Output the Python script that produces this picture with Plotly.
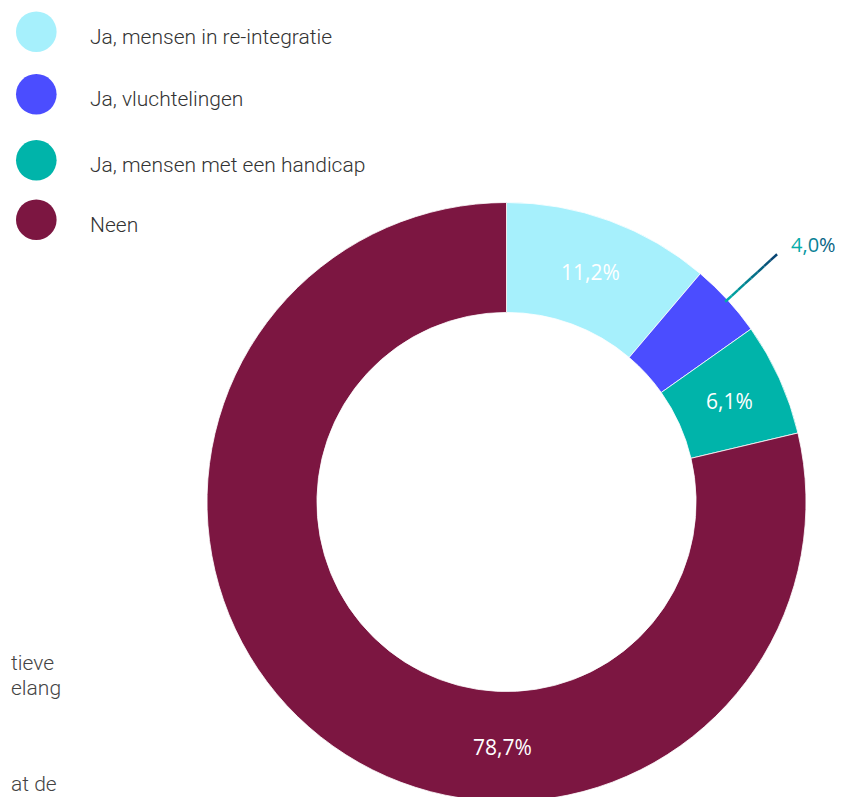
import math
import plotly.graph_objects as go

# ---- data ----
categories = ["Ja, mensen in re-integratie", "Ja, vluchtelingen",
              "Ja, mensen met een handicap", "Neen"]
values = [11.2, 4.0, 6.1, 78.7]
value_labels = ["11,2%", "4,0%", "6,1%", "78,7%"]
colors = ["#A6F0FC", "#4B4DFF", "#00B4AA", "#7C1641"]
label_placement = ["inside", "outside", "inside", "bottom"]
side_texts = ["tieve", "elang", "at de"]

# ---- layout geometry (screen pixels; page body has an 8px margin) ----
W, H = 843, 797
OX, OY = 8, 8
cx, cy, R = 506.5, 502.0, 299.5
HOLE = 0.633


def px2paper(x, y):
    return (x - OX) / W, 1 - (y - OY) / H


fig = go.Figure()
dx0, dy0 = px2paper(cx - R, cy + R)
dx1, dy1 = px2paper(cx + R, cy - R)
fig.add_trace(go.Pie(
    labels=categories, values=values, sort=False, direction="clockwise",
    rotation=0, hole=HOLE, textinfo="none", hoverinfo="none",
    marker=dict(colors=colors, line=dict(color="white", width=0.8)),
    domain=dict(x=[dx0, dx1], y=[dy0, dy1]),
    showlegend=False,
))

annotations = []
shapes = []

# value labels positioned from the data
total = sum(values)
cum = 0.0
mid_r = (HOLE + 1) / 2 * R
lab_font = dict(family="Open Sans", size=21, color="white")
for v, lab, place in zip(values, value_labels, label_placement):
    theta = (cum + v / 2) / total * 2 * math.pi
    cum += v
    if place == "inside":
        x, y = cx + mid_r * math.sin(theta), cy - mid_r * math.cos(theta)
        xp, yp = px2paper(x, y)
        annotations.append(dict(x=xp, y=yp, xref="paper", yref="paper", text=lab,
                                showarrow=False, xanchor="center", yanchor="middle",
                                font=lab_font))
    elif place == "bottom":
        x, y = cx - 4, cy + mid_r
        xp, yp = px2paper(x, y)
        annotations.append(dict(x=xp, y=yp, xref="paper", yref="paper", text=lab,
                                showarrow=False, xanchor="center", yanchor="middle",
                                font=lab_font))
    else:
        r0, r1 = 0.99 * R, 1.225 * R
        x0, y0 = cx + r0 * math.sin(theta), cy - r0 * math.cos(theta)
        x1, y1 = cx + r1 * math.sin(theta), cy - r1 * math.cos(theta)
        c0 = (0x00, 0xB4, 0xAA)
        c1 = (0x09, 0x3E, 0x70)
        n = 8
        for i in range(n):
            t0, t1 = i / n, (i + 1) / n
            tm = (t0 + t1) / 2
            col = "rgb(%d,%d,%d)" % tuple(int(a + (b - a) * tm) for a, b in zip(c0, c1))
            ax0, ay0 = px2paper(x0 + (x1 - x0) * t0, y0 + (y1 - y0) * t0)
            ax1, ay1 = px2paper(x0 + (x1 - x0) * t1, y0 + (y1 - y0) * t1)
            shapes.append(dict(type="line", xref="paper", yref="paper",
                               x0=ax0, y0=ay0, x1=ax1, y1=ay1,
                               line=dict(color=col, width=2.5)))
        grad = ["#05ADA9", "#0898A2", "#0A8196", "#0A6585", "#0A5580"]
        txt = "".join("<span style='color:%s'>%s</span>" % (grad[min(i, len(grad) - 1)], ch)
                      for i, ch in enumerate(lab))
        xp, yp = px2paper(x1 + 12, y1 - 10)
        annotations.append(dict(x=xp, y=yp, xref="paper", yref="paper", text=txt,
                                showarrow=False, xanchor="left", yanchor="middle",
                                font=dict(family="Open Sans", size=20, color="#0A8196")))

# custom legend with large round swatches
leg_y = [31.7, 94.3, 160.3, 219.7]
D = 40.6
leg_font = dict(family="Roboto", size=21, color="#333333", weight=300)
for cat, col, ly in zip(categories, colors, leg_y):
    xa, ya = px2paper(36.3 - D / 2, ly - D / 2)
    xb, yb = px2paper(36.3 + D / 2, ly + D / 2)
    shapes.append(dict(type="circle", xref="paper", yref="paper",
                       x0=xa, x1=xb, y0=yb, y1=ya,
                       fillcolor=col, line=dict(width=0)))
    tx, ty = px2paper(88, ly + 5)
    annotations.append(dict(x=tx, y=ty, xref="paper", yref="paper", text=cat,
                            showarrow=False, xanchor="left", yanchor="middle",
                            font=leg_font))

# page text fragments at the left edge (kept fully visible)
side_y = [663, 687.5, 784]
for t, sy in zip(side_texts, side_y):
    xp, yp = px2paper(OX + 1, sy)
    annotations.append(dict(x=xp, y=yp, xref="paper", yref="paper", text=t,
                            showarrow=False, xanchor="left", yanchor="middle",
                            font=dict(family="Roboto", size=21, color="#444444",
                                      weight=300)))

fig.update_layout(
    width=W, height=H, margin=dict(l=0, r=0, t=0, b=0),
    paper_bgcolor="white", plot_bgcolor="white",
    annotations=annotations, shapes=shapes,
)

fig.write_html("out.html")
